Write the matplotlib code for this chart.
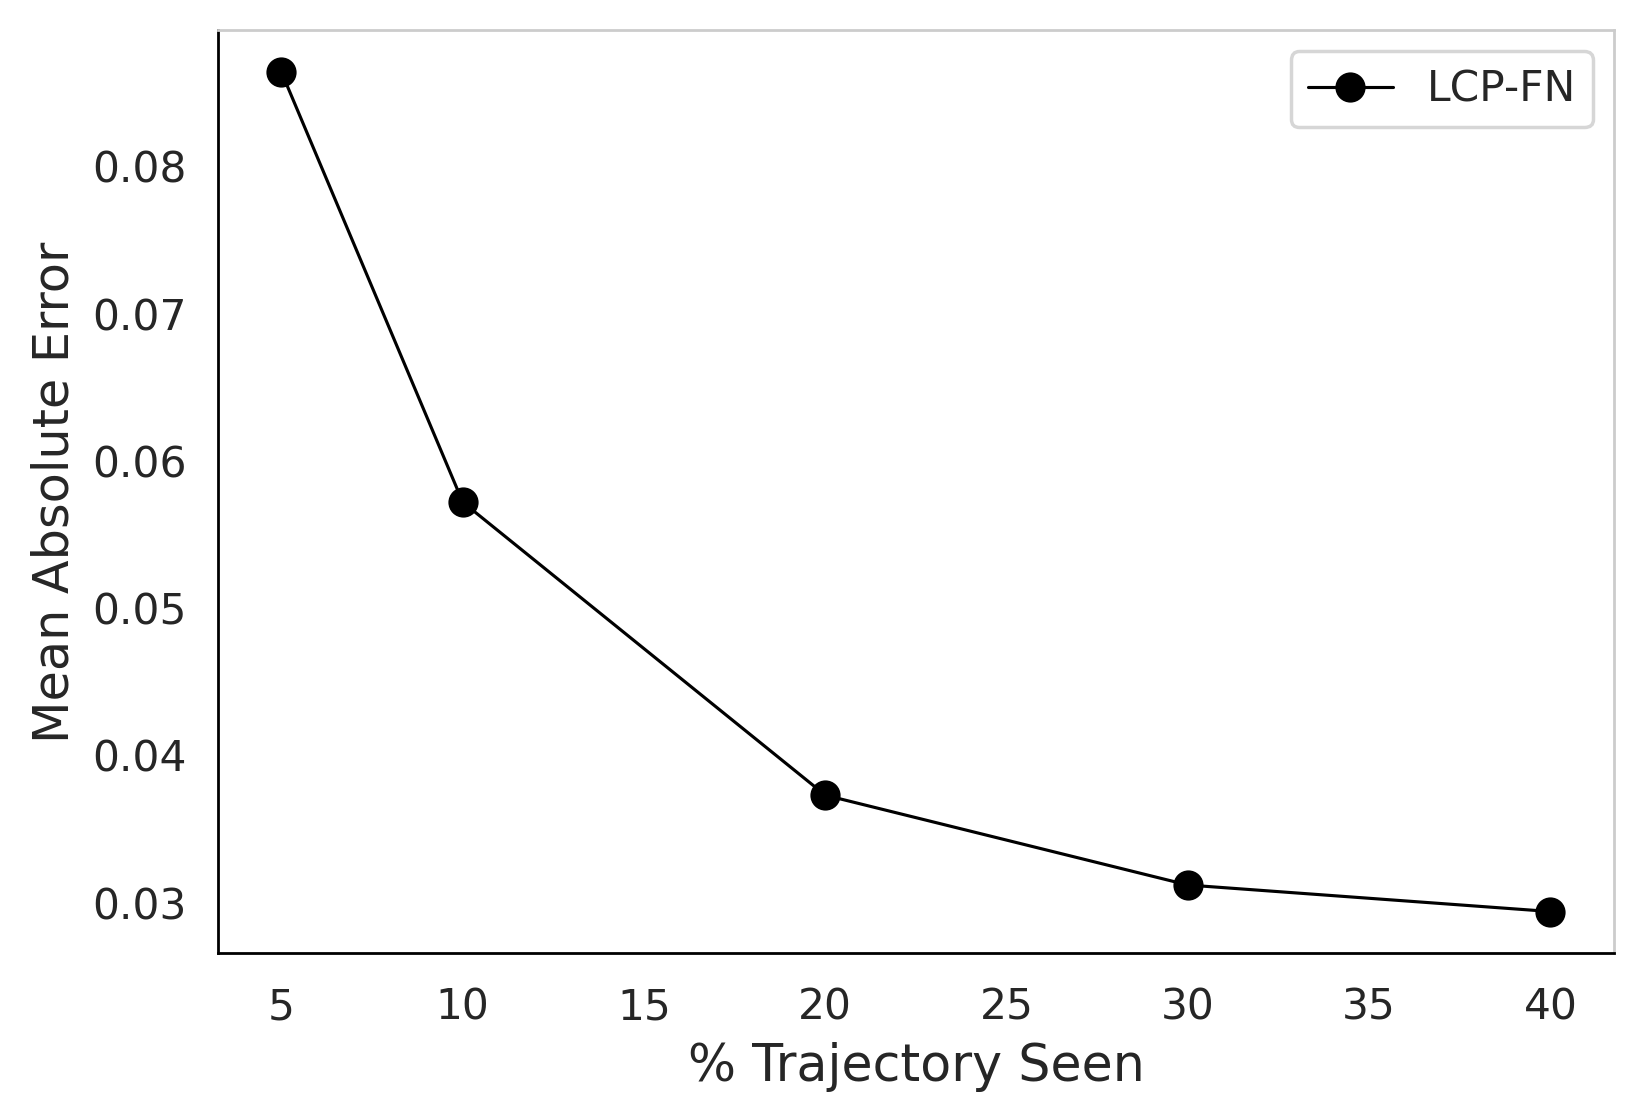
import matplotlib
matplotlib.use("Agg")
import matplotlib.pyplot as plt
import seaborn as sns

# data
pct_seen = [5, 10, 20, 30, 40]
mae = [0.0864, 0.0572, 0.0373, 0.0312, 0.0294]
label = "LCP-FN"

sns.set_style("white")
plt.rcParams['font.family'] = ['DejaVu Sans']

fig = plt.figure(figsize=(1643 / 250, 1119 / 250), dpi=250)
ax = fig.add_axes([0.1327, 0.1479, 0.8496, 0.8251])

ax.plot(pct_seen, mae, color="black", marker="o", markersize=7.7, linewidth=0.9, label=label)

ax.set_xlabel("% Trajectory Seen", fontsize=14.6, color=".15", labelpad=4)
ax.set_ylabel("Mean Absolute Error", fontsize=14.2, color=".15", labelpad=4)
ax.tick_params(axis="x", labelsize=12.2, labelcolor=".15", pad=6)
ax.tick_params(axis="y", labelsize=12.2, labelcolor=".15", pad=5.5)
ax.set_yticks([0.03, 0.04, 0.05, 0.06, 0.07, 0.08])
ax.set_xticks([5, 10, 15, 20, 25, 30, 35, 40])

for s in ["left", "bottom"]:
    ax.spines[s].set_color("black")
for s in ["top", "right"]:
    ax.spines[s].set_color(".8")

leg = ax.legend(loc="upper right", fontsize=12.2)
for t in leg.get_texts():
    t.set_color(".15")

fig.savefig("out.png", dpi=250)
